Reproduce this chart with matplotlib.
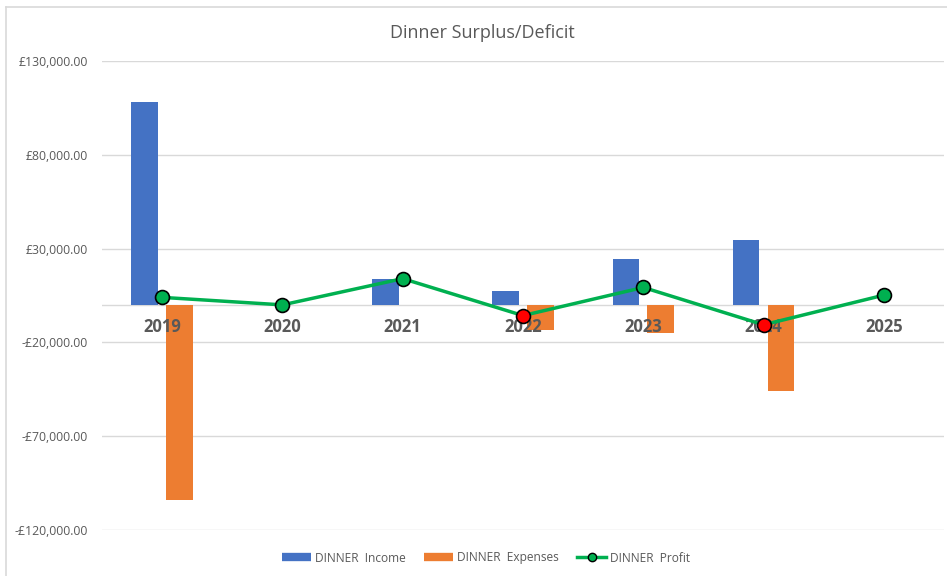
import matplotlib.pyplot as plt
from matplotlib.lines import Line2D
import numpy as np

years = ["2019", "2020", "2021", "2022", "2023", "2024", "2025"]
income = [108000, 0, 14000, 7600, 24200, 34800, 0]
expenses = [-104000, 0, 0, -13200, -14800, -45700, 0]
profit = [4000, 0, 14000, -5700, 9300, -10600, 5200]
yticks = [-120000, -70000, -20000, 30000, 80000, 130000]

grey = "#595959"
plt.rcParams["font.family"] = ["Open Sans", "DejaVu Sans"]

fig = plt.figure(figsize=(9.47, 5.76), dpi=100)
ax = fig.add_axes([102 / 947, 46 / 576, 842 / 947, 469 / 576])

x = np.arange(len(years))
w = 0.22
ax.bar(x - 0.145, income, w, color="#4472c4", zorder=2)
ax.bar(x + 0.145, expenses, w, color="#ed7d31", zorder=2)
ax.plot(x, profit, color="#00b050", lw=2.5, zorder=3)
for xi, p in zip(x, profit):
    c = "#00b050" if p >= 0 else "#ff0000"
    ax.plot(xi, p, "o", ms=10, mfc=c, mec="black", mew=1.2, zorder=4)

ax.set_xlim(-0.5, len(years) - 0.5)
ax.set_ylim(-120000, 130000)
ax.set_yticks(yticks)
ax.set_yticklabels([("-£" if v < 0 else "£") + f"{abs(v):,.2f}" for v in yticks],
                   fontsize=8.8, color=grey)
ax.tick_params(axis="y", length=0, pad=10)
ax.set_xticks([])
ax.grid(axis="y", color="#d9d9d9", lw=1, zorder=0)
ax.axhline(0, color="#d9d9d9", lw=1, zorder=1)
for s in ax.spines.values():
    s.set_visible(False)

# year labels sit over the bars but under the profit markers
for xi, yr in zip(x, years):
    ax.text(xi, -12000, yr, ha="center", va="center", fontsize=12,
            fontweight="bold", color=grey, zorder=2.5)

fig.text(482 / 947, 1 - 33 / 576, "Dinner Surplus/Deficit", ha="center",
         va="center", fontsize=13, color=grey)

handles = [
    Line2D([], [], color="#4472c4", lw=6, solid_capstyle="butt"),
    Line2D([], [], color="#ed7d31", lw=6, solid_capstyle="butt"),
    Line2D([], [], color="#00b050", lw=2.5, marker="o", ms=6, mfc="#00b050", mec="black"),
]
fig.legend(handles, ["DINNER  Income", "DINNER  Expenses", "DINNER  Profit"],
           loc="center", bbox_to_anchor=(486 / 947, 1 - 558 / 576), ncol=3,
           frameon=False, fontsize=8.6, labelcolor=grey, handlelength=2.4,
           handletextpad=0.3, columnspacing=1.6)

# chart frame (top and left edges visible)
fig.add_artist(Line2D([6 / 947, 1], [1 - 7 / 576] * 2, color="#d9d9d9", lw=1.2))
fig.add_artist(Line2D([6 / 947] * 2, [0, 1 - 7 / 576], color="#d9d9d9", lw=1.2))

fig.savefig("out.png", dpi=100)
